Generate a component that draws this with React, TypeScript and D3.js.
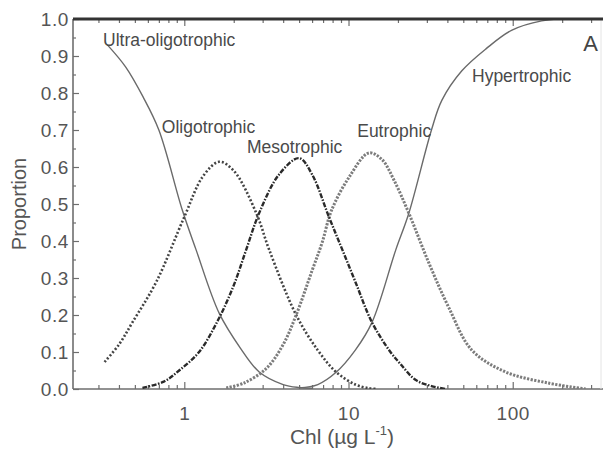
import React from "react";
import * as d3 from "d3";

// proportions, as [Chl µg/L, proportion]
const ultraOligotrophic = [
  [0.34, 0.93], [0.44, 0.87], [0.56, 0.79], [0.7, 0.7], [0.97, 0.485],
  [1.18, 0.376], [1.63, 0.205], [2.2, 0.11], [2.86, 0.046], [4.0, 0.012],
  [5.0, 0.004], [6.0, 0.002],
];
const oligotrophic = [
  [0.327, 0.073], [0.4, 0.12], [0.483, 0.18], [0.676, 0.29], [1.0, 0.465],
  [1.3, 0.575], [1.63, 0.614], [2.0, 0.59], [2.74, 0.476], [3.29, 0.376],
  [4.8, 0.2], [6.5, 0.105], [8.4, 0.046], [11, 0.012], [13.3, 0.002], [15, 0.0],
];
const mesotrophic = [
  [0.556, 0.003], [0.75, 0.02], [0.93, 0.05], [1.23, 0.1], [1.6, 0.185],
  [2.0, 0.28], [2.38, 0.376], [2.86, 0.476], [3.78, 0.58], [5.0, 0.624],
  [6.0, 0.58], [7.6, 0.465], [9.1, 0.38], [11, 0.29], [13.9, 0.18],
  [18, 0.1], [20.5, 0.07], [25.7, 0.024], [32, 0.008], [39, 0.0],
];
const eutrophic = [
  [1.8, 0.003], [2.3, 0.016], [3.15, 0.055], [4.0, 0.12], [4.8, 0.2],
  [6.0, 0.32], [6.9, 0.395], [7.9, 0.484], [10.1, 0.573], [13.3, 0.638],
  [16, 0.62], [18.9, 0.565], [23.3, 0.475], [30.9, 0.34], [40.8, 0.22],
  [56.4, 0.105], [90.6, 0.046], [165, 0.016], [278, 0.0],
];
const hypertrophic = [
  [5.0, 0.003], [6.5, 0.012], [8.4, 0.045], [11, 0.105], [13.9, 0.18],
  [19.4, 0.376], [23.3, 0.475], [32, 0.7], [37, 0.78], [49, 0.86],
  [69, 0.92], [99, 0.97], [150, 0.995], [200, 1.0], [340, 1.0],
];

const xMajor = [1, 10, 100];
const xMinor = [0.3, 0.4, 0.5, 0.6, 0.7, 0.8, 0.9, 2, 3, 4, 5, 6, 7, 8, 9,
  20, 30, 40, 50, 60, 70, 80, 90, 200, 300];
const yMajor = [0, 0.1, 0.2, 0.3, 0.4, 0.5, 0.6, 0.7, 0.8, 0.9, 1.0];
const yMinor = [0.05, 0.15, 0.25, 0.35, 0.45, 0.55, 0.65, 0.75, 0.85, 0.95];

// curve label anchors [Chl, proportion]
const curveLabels = [
  { text: "Ultra-oligotrophic", at: [0.32, 0.927] },
  { text: "Oligotrophic", at: [0.73, 0.692] },
  { text: "Mesotrophic", at: [2.41, 0.638] },
  { text: "Eutrophic", at: [11.3, 0.681] },
  { text: "Hypertrophic", at: [56.5, 0.83] },
];

const series = [
  { data: ultraOligotrophic, stroke: "#6a6a6a", width: 1.4, dash: null },
  { data: hypertrophic, stroke: "#6a6a6a", width: 1.4, dash: null },
  { data: oligotrophic, stroke: "#444", width: 2.6, dash: "2,2" },
  { data: eutrophic, stroke: "#7c7c7c", width: 3, dash: "2.2,1.4" },
  { data: mesotrophic, stroke: "#2a2a2a", width: 2.4, dash: "5,1.5,1.5,1.5" },
];

const W = 603;
const H = 450;
const left = 73;
const right = 600;
const top = 19;
const bottom = 389;
const font = "Liberation Sans, Arial, sans-serif";

export default function App() {
  const svgRef = React.useRef<SVGSVGElement>(null);

  React.useEffect(() => {
    const svg = d3.select(svgRef.current);
    svg.selectAll("*").remove();

    const x = d3.scaleLog().domain([0.21, 340]).range([left, right]);
    const y = d3.scaleLinear().domain([0, 1]).range([bottom, top]);

    svg.append("defs").append("clipPath").attr("id", "plot")
      .append("rect").attr("x", left).attr("y", top - 2)
      .attr("width", W - left).attr("height", bottom - top + 2);

    const axisColor = "#6e6e6e";
    const styleAxis = (g: any) => {
      g.select(".domain").remove();
      g.selectAll("line").attr("stroke", axisColor).attr("stroke-width", 1.2);
      g.selectAll("text").attr("fill", "#555").attr("font-family", font)
        .attr("font-size", 19).attr("letter-spacing", 0.6);
    };

    // x minor + major ticks (bottom, pointing in)
    svg.append("g").attr("transform", `translate(0,${bottom})`)
      .call(d3.axisBottom(x).tickValues(xMinor).tickSize(-4).tickFormat(() => ""))
      .call(styleAxis);
    svg.append("g").attr("transform", `translate(0,${bottom})`)
      .call(d3.axisBottom(x).tickValues(xMajor).tickSize(-7).tickPadding(18)
        .tickFormat((d: any) => String(d)))
      .call(styleAxis);
    // top ticks
    svg.append("g").attr("transform", `translate(0,${top})`)
      .call(d3.axisTop(x).tickValues(xMinor).tickSize(-4).tickFormat(() => ""))
      .call(styleAxis);
    svg.append("g").attr("transform", `translate(0,${top})`)
      .call(d3.axisTop(x).tickValues(xMajor).tickSize(-7).tickFormat(() => ""))
      .call(styleAxis);

    // y ticks (left, pointing in)
    svg.append("g").attr("transform", `translate(${left},0)`)
      .call(d3.axisLeft(y).tickValues(yMinor).tickSize(-3).tickFormat(() => ""))
      .call(styleAxis);
    svg.append("g").attr("transform", `translate(${left},0)`)
      .call(d3.axisLeft(y).tickValues(yMajor).tickSize(-6).tickPadding(4)
        .tickFormat(d3.format(".1f")))
      .call(styleAxis);

    // frame
    svg.append("line").attr("x1", left).attr("x2", left)
      .attr("y1", top).attr("y2", bottom).attr("stroke", axisColor).attr("stroke-width", 1.6);
    svg.append("line").attr("x1", left).attr("x2", W)
      .attr("y1", bottom).attr("y2", bottom).attr("stroke", axisColor).attr("stroke-width", 1.6);
    svg.append("line").attr("x1", right + 1).attr("x2", right + 1)
      .attr("y1", top).attr("y2", bottom).attr("stroke", "#e4e4e4").attr("stroke-width", 1);

    const line = d3.line<number[]>()
      .x((d) => x(d[0]))
      .y((d) => y(Math.max(0, d[1])))
      .curve(d3.curveCatmullRom.alpha(0.5));

    svg.append("g").attr("clip-path", "url(#plot)")
      .selectAll("path")
      .data(series)
      .join("path")
      .attr("d", (s) => line(s.data))
      .attr("fill", "none")
      .attr("stroke", (s) => s.stroke)
      .attr("stroke-width", (s) => s.width)
      .attr("stroke-dasharray", (s) => s.dash);

    svg.append("line").attr("x1", left).attr("x2", W)
      .attr("y1", top).attr("y2", top).attr("stroke", "#333").attr("stroke-width", 3);

    svg.append("g").selectAll("text")
      .data(curveLabels)
      .join("text")
      .attr("x", (d) => x(d.at[0]))
      .attr("y", (d) => y(d.at[1]))
      .attr("fill", "#4a4a4a")
      .attr("font-family", font)
      .attr("font-size", 17.5)
      .text((d) => d.text);

    svg.append("text").attr("x", 598).attr("y", 51).attr("text-anchor", "end")
      .attr("fill", "#444").attr("font-family", font).attr("font-size", 22).text("A");

    svg.append("text")
      .attr("transform", `translate(26,${(top + bottom) / 2}) rotate(-90)`)
      .attr("text-anchor", "middle").attr("fill", "#555")
      .attr("font-family", font).attr("font-size", 20).text("Proportion");

    const xl = svg.append("text").attr("x", 342).attr("y", 444)
      .attr("text-anchor", "middle").attr("fill", "#555")
      .attr("font-family", font).attr("font-size", 21);
    xl.append("tspan").text("Chl (\u00b5g L");
    xl.append("tspan").attr("dy", -9).attr("font-size", 13).text("-1");
    xl.append("tspan").attr("dy", 9).text(")");
  }, []);

  return (
    <svg
      ref={svgRef}
      width={W}
      height={H}
      style={{ position: "absolute", left: 0, top: 0, background: "#fff" }}
    />
  );
}
